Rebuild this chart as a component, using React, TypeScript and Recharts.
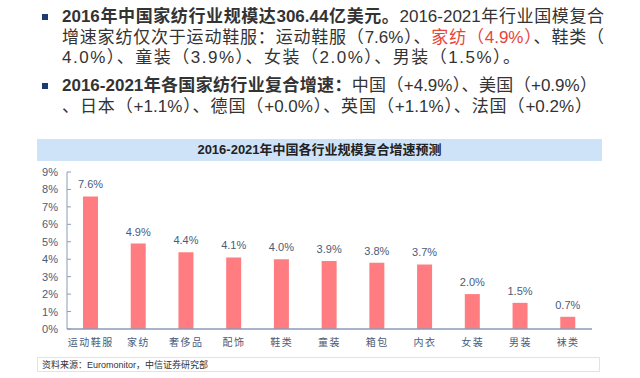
import { BarChart, Bar, XAxis, YAxis, LabelList } from 'recharts'

const categories = ['运动鞋服', '家纺', '奢侈品', '配饰', '鞋类', '童装', '箱包', '内衣', '女装', '男装', '袜类']
const growth = [7.6, 4.9, 4.4, 4.1, 4.0, 3.9, 3.8, 3.7, 2.0, 1.5, 0.7]
const yTicks = [0, 1, 2, 3, 4, 5, 6, 7, 8, 9]

const data = categories.map((name, i) => ({ name, value: growth[i] }))

const FONT = '"Liberation Sans", Arial, "Noto Sans CJK SC", sans-serif'
const AXIS = '#8a9cb8'
const TICK = '#4b5b78'

function YTick(props: any) {
  const { x, y, payload } = props
  return (
    <g>
      <line x1={x + 9} x2={x + 13} y1={y} y2={y} stroke={AXIS} />
      <text x={x} y={y} dy={4} textAnchor="end" fontSize={11} fill={TICK} fontFamily={FONT}>
        {payload.value}%
      </text>
    </g>
  )
}

const line = (top: number, justify?: boolean): any => ({
  position: 'absolute',
  left: 62,
  top,
  width: 542,
  fontSize: 17,
  lineHeight: '20px',
  whiteSpace: 'nowrap',
  color: '#333',
  textAlign: justify ? 'justify' : 'left',
  textAlignLast: justify ? 'justify' : 'left',
})

const bullet = (top: number): any => ({
  position: 'absolute', left: 42, top, width: 6, height: 6, background: '#1f3a6e',
})

export default function App() {
  return (
    <div style={{ position: 'absolute', left: 0, top: 0, width: 640, height: 378, background: '#fff', fontFamily: FONT, overflow: 'hidden' }}>
      <div style={bullet(14)} />
      <div style={line(7, true)}>
        <b>2016年中国家纺行业规模达306.44亿美元。</b>2016-2021年行业国模复合
      </div>
      <div style={line(28, true)}>
        增速家纺仅次于运动鞋服：运动鞋服（7.6%）、<span style={{ color: '#e8443a' }}>家纺（4.9%）</span>、鞋类（
      </div>
      <div style={{ ...line(48), letterSpacing: 1.5 }}>4.0%）、童装（3.9%）、女装（2.0%）、男装（1.5%）。</div>
      <div style={bullet(83)} />
      <div style={{ ...line(76), width: 535, textAlign: 'justify', textAlignLast: 'justify' }}>
        <b>2016-2021年各国家纺行业复合增速：</b>中国（+4.9%）、美国（+0.9%）
      </div>
      <div style={{ ...line(97), width: 530, textAlign: 'justify', textAlignLast: 'justify' }}>
        、日本（+1.1%）、德国（+0.0%）、英国（+1.1%）、法国（+0.2%）
      </div>

      <div style={{ position: 'absolute', left: 37, top: 139, width: 565, height: 22, background: '#cfe3f8', textAlign: 'center', fontSize: 13, lineHeight: '22px', fontWeight: 'bold', color: '#222' }}>
        2016-2021年中国各行业规模复合增速预测
      </div>

      <div style={{ position: 'absolute', left: 0, top: 160 }}>
        <BarChart width={640} height={200} data={data} margin={{ top: 12, right: 48, bottom: 1, left: 27 }}>
          <XAxis
            dataKey="name"
            height={30}
            axisLine={{ stroke: AXIS, strokeWidth: 1.5 }}
            tickLine={false}
            interval={0}
            tick={{ fontSize: 10, fill: TICK, fontFamily: '"Noto Sans CJK SC", sans-serif', letterSpacing: 1.5 }}
            tickMargin={4}
          />
          <YAxis
            width={40}
            domain={[0, 9]}
            ticks={yTicks}
            interval={0}
            axisLine={{ stroke: AXIS }}
            tickLine={false}
            tickSize={0}
            tickMargin={9}
            tick={<YTick />}
          />
          <Bar dataKey="value" fill="#ff7c80" barSize={15} isAnimationActive={false}>
            <LabelList
              dataKey="value"
              position="top"
              offset={8}
              formatter={(v: any) => `${Number(v).toFixed(1)}%`}
              style={{ fontSize: 11, fill: TICK, fontFamily: FONT }}
            />
          </Bar>
        </BarChart>
      </div>

      <div style={{ position: 'absolute', left: 37, top: 357, width: 563, height: 15, border: '1px solid #d6e6f5', fontSize: 9, lineHeight: '15px', color: '#333', paddingLeft: 4, boxSizing: 'border-box' }}>
        资料来源：Euromonitor，中信证券研究部
      </div>
    </div>
  )
}
